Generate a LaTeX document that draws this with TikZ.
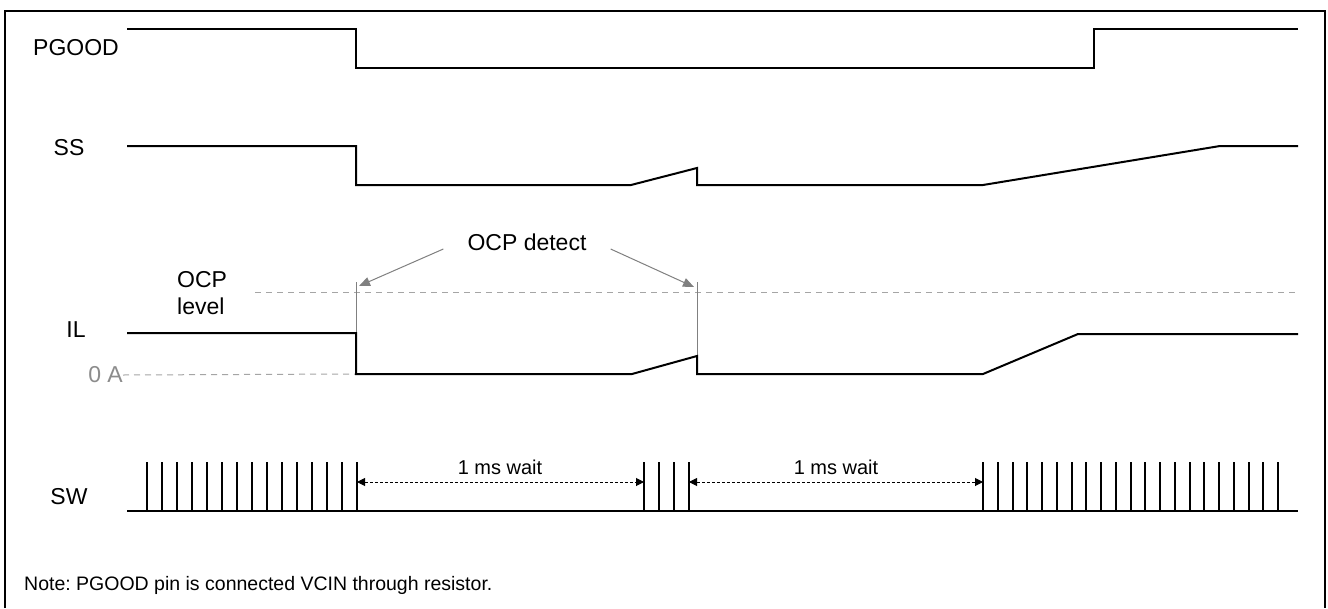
\documentclass[tikz,border=0pt]{standalone}
\usepackage{fontspec}
\setmainfont{Liberation Sans}
\usetikzlibrary{arrows.meta}
\definecolor{gline}{RGB}{128,128,128}
\definecolor{gdash}{RGB}{165,165,165}
\definecolor{gtext}{RGB}{140,140,140}
\frenchspacing
\begin{document}
\begin{tikzpicture}[x=1pt,y=-1pt,
  sig/.style={line width=2pt, line join=miter},
  pulse/.style={line width=2pt},
  lbl/.style={font=\fontsize{23}{26}\selectfont, inner sep=0pt},
  waitlbl/.style={font=\fontsize{20}{24}\selectfont, inner sep=0pt, anchor=base},
  notelbl/.style={font=\fontsize{19.5}{24}\selectfont, inner sep=0pt, anchor=base west},
  refdash/.style={draw=gdash, line width=1pt, dash pattern=on 6pt off 5pt},
  marker/.style={draw=gline, line width=1pt},
  garrow/.style={draw=gline, line width=1pt, -{Triangle[length=11pt,width=9pt,fill=gline]}},
  waitarrow/.style={line width=1pt, dash pattern=on 3pt off 2pt, {Triangle[length=8pt,width=8pt]}-{Triangle[length=8pt,width=8pt]}}
]
\useasboundingbox (0,0) rectangle (1328,608);
\fill[white] (0,0) rectangle (1328,608);
\draw[line width=2pt] (5,608) -- (5,11) -- (1325,11) -- (1325,608);

% labels
\node[lbl] (pgood) at (76,48) {PGOOD};
\node[lbl] (ss) at (69,148) {SS};
\node[lbl] (il) at (76,330) {IL};
\node[lbl] (sw) at (69,497) {SW};
\node[lbl, anchor=base west] (ocpA) at (177,287) {OCP};
\node[lbl, anchor=base west] (ocpB) at (177,314) {level};
\node[lbl, text=gtext, anchor=east] (zeroA) at (123,375) {0 A};

% reference lines
\coordinate (ocpL) at (255,292);
\coordinate (ocpR) at (1298,292);
\draw[refdash] (ocpL) -- (ocpR);
\coordinate (zeroR) at (356,374);
\draw[refdash] (zeroA.east) -- (zeroR);

% PGOOD
\draw[sig] (127,29) -- (356,29) -- (356,68) -- (1094,68) -- (1094,29) -- (1298,29);
% SS
\draw[sig] (127,146) -- (356,146) -- (356,185) -- (631,185) -- (697,168) -- (697,185) -- (983,185) -- (1220,146) -- (1298,146);
% OCP detect markers
\coordinate (det1) at (356,282);
\coordinate (det2) at (697,282);
\draw[marker] (det1) -- (356,333);
\draw[marker] (det2) -- (697,356);
% IL
\draw[sig] (127,333) -- (356,333) -- (356,374) -- (632,374) -- (697,356) -- (697,374) -- (983,374) -- (1078,334) -- (1298,334);

% OCP detect label and arrows
\node[lbl, anchor=base] (ocpdet) at (527,250) {OCP detect};
\coordinate (det1tip) at (359,286);
\coordinate (det2tip) at (694,287);
\draw[garrow] ([xshift=-24pt,yshift=1pt]ocpdet.base west) -- (det1tip);
\draw[garrow] ([xshift=24pt,yshift=1pt]ocpdet.base east) -- (det2tip);

% SW
\draw[sig] (127,511) -- (1298,511);
\foreach \k in {0,...,14} \draw[pulse] ({147+15*\k},511) -- ({147+15*\k},462);
\foreach \xx in {644,659,674,689} \draw[pulse] (\xx,511) -- (\xx,462);
\foreach \k in {0,...,20} \draw[pulse] ({983+14.75*\k},511) -- ({983+14.75*\k},462);

\coordinate (wa1) at (357,482);
\coordinate (wb1) at (644,482);
\coordinate (wa2) at (689,482);
\coordinate (wb2) at (983,482);
\draw[waitarrow] (wa1) -- (wb1);
\draw[waitarrow] (wa2) -- (wb2);
\node[waitlbl] (wait1) at (500,474) {1 ms wait};
\node[waitlbl] (wait2) at (836,474) {1 ms wait};

\node[notelbl] (note) at (24,590) {Note: PGOOD pin is connected VCIN through resistor.};
\end{tikzpicture}
\end{document}
